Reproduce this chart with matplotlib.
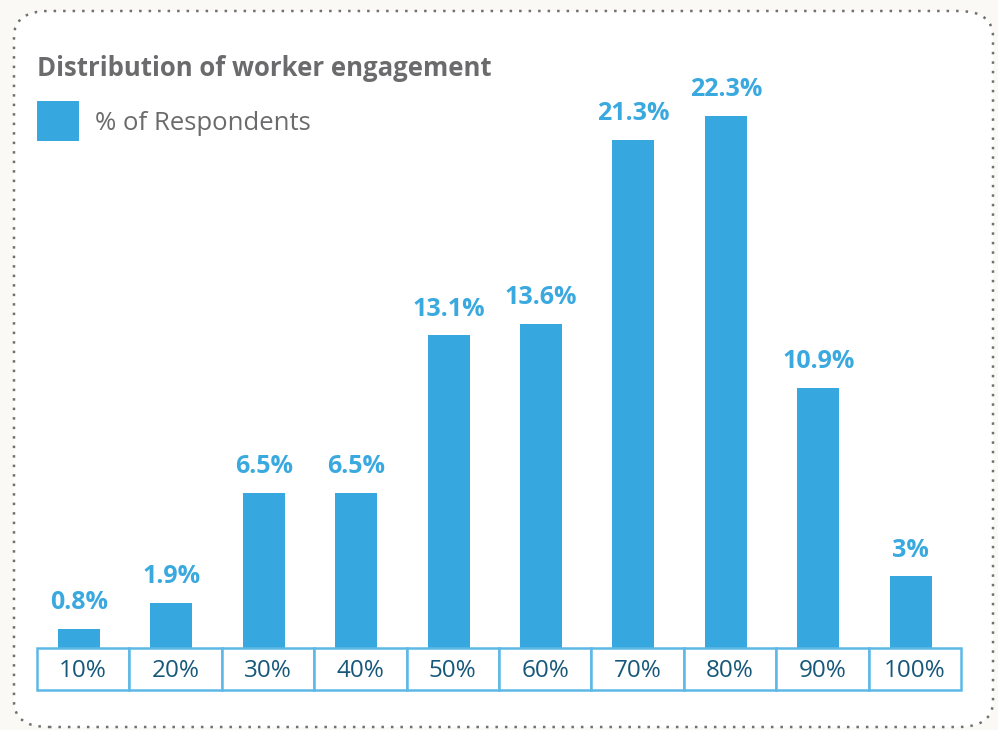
import matplotlib
matplotlib.use("Agg")
import matplotlib.pyplot as plt
from matplotlib.patches import FancyBboxPatch, Rectangle

categories = ["10%", "20%", "30%", "40%", "50%", "60%", "70%", "80%", "90%", "100%"]
respondents = [0.8, 1.9, 6.5, 6.5, 13.1, 13.6, 21.3, 22.3, 10.9, 3]
value_labels = ["0.8%", "1.9%", "6.5%", "6.5%", "13.1%", "13.6%", "21.3%", "22.3%", "10.9%", "3%"]

BAR_COLOR = "#37a8df"
LABEL_COLOR = "#3aa9e0"
TICK_COLOR = "#17587a"
GREY = "#6b6b6d"

plt.rcParams["font.family"] = ["Open Sans", "DejaVu Sans"]

W, H = 998, 730
fig = plt.figure(figsize=(W / 100, H / 100), dpi=100)
fig.patch.set_facecolor("#faf9f5")


def fx(px):
    return px / W


def fy(py):
    return 1 - py / H


# dotted rounded frame, kept behind the axes
frame = FancyBboxPatch(
    (fx(14), fy(727)), fx(979), (727 - 11) / H,
    boxstyle="round,pad=0,rounding_size=0.035",
    transform=fig.transFigure, facecolor="white", edgecolor="#707070",
    linestyle=(0, (1, 2.8)), linewidth=1.8, zorder=-5,
)
fig.patches.append(frame)

# main axes: bars, baseline at y=648 px
px_per_unit = 23.86
top_px = 60
ax = fig.add_axes([fx(37), fy(648), fx(961 - 37), (648 - top_px) / H])
ax.set_facecolor("none")
x = list(range(len(categories)))
bar_shift = -0.045  # bars sit slightly left of the cell centres
ax.bar([xi + bar_shift for xi in x], respondents, width=0.455,
       color=BAR_COLOR, zorder=2)
ax.set_xlim(-0.5, len(categories) - 0.5)
ax.set_ylim(0, (648 - top_px) / px_per_unit)
for xi, val, lab in zip(x, respondents, value_labels):
    ax.annotate(lab, (xi + bar_shift, val), xytext=(0, 10),
                textcoords="offset points", ha="center", va="bottom",
                color=LABEL_COLOR, fontsize=18, fontweight="bold")
ax.set_xticks([])
ax.set_yticks([])
for s in ax.spines.values():
    s.set_visible(False)

# category table below bars
tax = fig.add_axes([fx(37), fy(690), fx(961 - 37), (690 - 648) / H])
tax.set_facecolor("none")
tax.set_xlim(-0.5, len(categories) - 0.5)
tax.set_ylim(0, 1)
tax.set_xticks([])
tax.set_yticks([])
for s in tax.spines.values():
    s.set_visible(False)
for xi, cat in zip(x, categories):
    tax.add_patch(Rectangle((xi - 0.5, 0), 1, 1, facecolor="white",
                            edgecolor="#5db8e6", linewidth=1.8,
                            clip_on=False))
    tax.text(xi, 0.46, cat, ha="center", va="center", color=TICK_COLOR,
             fontsize=17.5)

# title and legend
fig.text(fx(37), fy(69), "Distribution of worker engagement", ha="left",
         va="center", fontsize=18.5, fontweight="bold", color=GREY)
fig.patches.append(Rectangle((fx(37), fy(141)), fx(42), 40 / H,
                             transform=fig.transFigure, facecolor=BAR_COLOR,
                             edgecolor="none"))
fig.text(fx(95), fy(124), "% of Respondents", ha="left", va="center",
         fontsize=18.5, color=GREY)

fig.savefig("out.png", dpi=100, facecolor=fig.get_facecolor())
